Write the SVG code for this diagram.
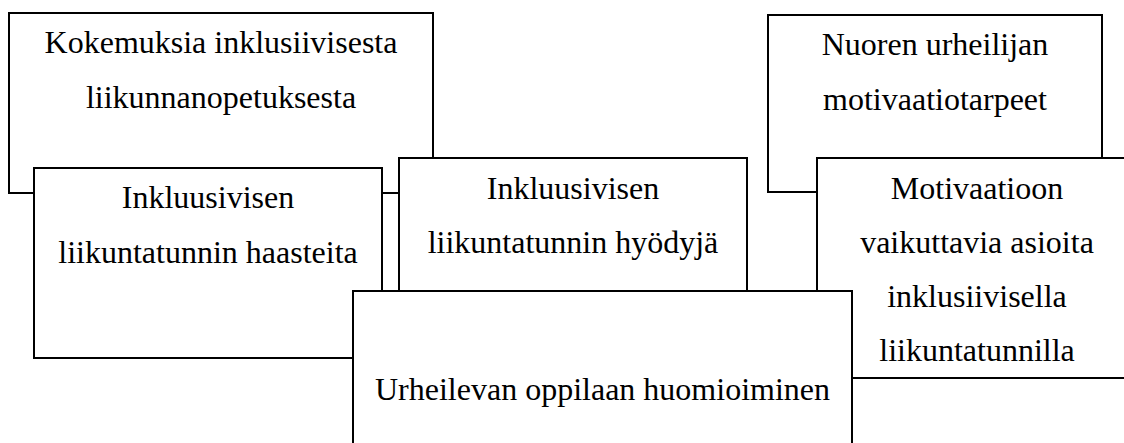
<svg xmlns="http://www.w3.org/2000/svg" width="1124" height="443" viewBox="0 0 1124 443">
  <style>
    .box { fill: #ffffff; stroke: #000000; stroke-width: 2; }
    .lbl { font-family: "Liberation Serif", "Times New Roman", serif; font-size: 32px; fill: #000000; text-anchor: middle; }
  </style>
  <rect width="1124" height="443" fill="#ffffff"/>
  <g id="connectors"></g>

  <g id="kokemuksia">
    <rect class="box" x="9" y="13" width="424" height="180"/>
    <text class="lbl" x="221" y="53">Kokemuksia inklusiivisesta</text>
    <text class="lbl" x="221" y="108">liikunnanopetuksesta</text>
  </g>

  <g id="motivaatiotarpeet">
    <rect class="box" x="768" y="15" width="334" height="177"/>
    <text class="lbl" x="935" y="55">Nuoren urheilijan</text>
    <text class="lbl" x="935" y="110">motivaatiotarpeet</text>
  </g>

  <g id="haasteita">
    <rect class="box" x="34" y="168" width="348" height="190"/>
    <text class="lbl" x="208" y="208">Inkluusivisen</text>
    <text class="lbl" x="208" y="263">liikuntatunnin haasteita</text>
  </g>

  <g id="hyotyja">
    <rect class="box" x="399" y="158" width="348" height="190"/>
    <text class="lbl" x="573" y="199">Inkluusivisen</text>
    <text class="lbl" x="573" y="253">liikuntatunnin hyödyjä</text>
  </g>

  <g id="motivaatioon">
    <rect class="box" x="817" y="158" width="320" height="220"/>
    <text class="lbl" x="977" y="199">Motivaatioon</text>
    <text class="lbl" x="977" y="253">vaikuttavia asioita</text>
    <text class="lbl" x="977" y="307">inklusiivisella</text>
    <text class="lbl" x="977" y="361">liikuntatunnilla</text>
  </g>

  <g id="urheilevan">
    <rect class="box" x="353" y="291" width="499" height="170"/>
    <text class="lbl" x="602.5" y="400">Urheilevan oppilaan huomioiminen</text>
  </g>
</svg>
